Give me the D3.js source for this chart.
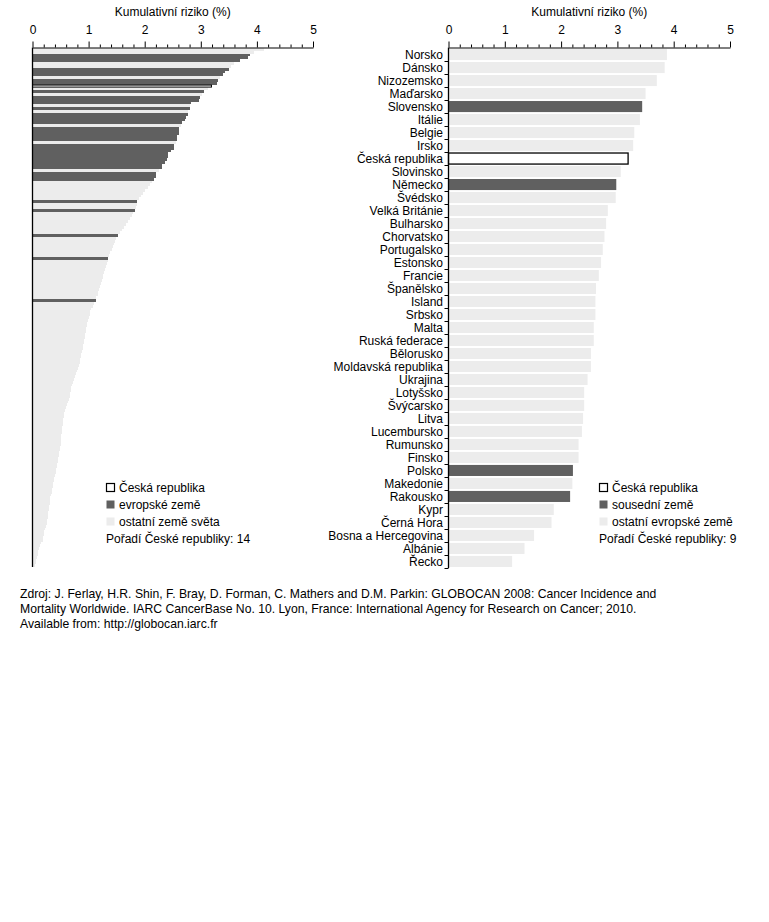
<!DOCTYPE html>
<html><head><meta charset="utf-8">
<script src="https://cdn.jsdelivr.net/npm/d3@7"></script>
<style>
body{margin:0;background:#fff}
text{font-family:"Liberation Sans",Arial,sans-serif;fill:#000}
</style>
</head><body>
<svg id="c" width="769" height="922"></svg>
<script>
// ---------- DATA ----------
const europeCountries = ["Norsko","Dánsko","Nizozemsko","Maďarsko","Slovensko","Itálie","Belgie","Irsko","Česká republika","Slovinsko","Německo","Švédsko","Velká Británie","Bulharsko","Chorvatsko","Portugalsko","Estonsko","Francie","Španělsko","Island","Srbsko","Malta","Ruská federace","Bělorusko","Moldavská republika","Ukrajina","Lotyšsko","Švýcarsko","Litva","Lucembursko","Rumunsko","Finsko","Polsko","Makedonie","Rakousko","Kypr","Černá Hora","Bosna a Hercegovina","Albánie","Řecko"];
const europeValues = [3.88,3.84,3.70,3.50,3.44,3.40,3.30,3.28,3.19,3.06,2.98,2.97,2.83,2.80,2.77,2.74,2.71,2.67,2.62,2.61,2.61,2.58,2.58,2.53,2.53,2.47,2.41,2.41,2.39,2.37,2.31,2.31,2.21,2.20,2.16,1.87,1.83,1.52,1.35,1.13];
const neighbourCountries = ["Slovensko","Německo","Polsko","Rakousko"];
const czechName = "Česká republika";
// non-European countries of the world
const otherWorldValues = [
 4.13,3.95,3.60,3.53,3.35,3.12,3.02,2.81,2.78,2.65,2.56,2.26,
 2.13,2.09,2.05,2.01,1.97,1.93,1.89,1.86,1.84,
 1.80,1.77,1.73,1.70,1.67,1.63,1.60,1.56,
 1.49,1.47,1.45,1.43,1.41,1.39,1.37,
 1.34,1.32,1.31,1.29,1.28,1.26,1.25,1.24,1.22,1.21,1.19,1.17,1.16,1.14,
 1.10,1.07,1.05,1.03,1.02,1.01,0.99,0.98,0.97,0.96,
 0.95,0.94,0.93,0.92,0.91,0.90,0.90,0.89,0.87,0.86,
 0.85,0.84,0.83,0.81,0.80,0.78,0.76,0.74,0.72,0.70,
 0.69,0.68,0.67,0.66,0.65,0.63,0.61,0.59,0.58,0.57,
 0.56,0.55,0.54,0.54,0.53,0.52,0.52,0.51,0.51,0.50,
 0.50,0.49,0.49,0.48,0.47,0.46,0.45,0.44,0.43,0.42,
 0.41,0.40,0.39,0.38,0.37,0.36,0.35,0.34,0.33,0.32,
 0.32,0.31,0.30,0.29,0.28,0.27,0.27,0.26,0.25,0.24,
 0.23,0.21,0.20,0.19,0.18,0.16,0.14,0.12,0.10,0.09,
 0.08,0.07,0.06,0.05];
const majorTicks = [0,1,2,3,4,5];
const minorTicks = [0.2,0.4,0.6,0.8,1.2,1.4,1.6,1.8,2.2,2.4,2.6,2.8,3.2,3.4,3.6,3.8,4.2,4.4,4.6,4.8];
const axisTitle = "Kumulativní riziko (%)";
const leftLegend = ["Česká republika","evropské země","ostatní země světa"];
const leftRankText = "Pořadí České republiky: 14";
const rightLegend = ["Česká republika","sousední země","ostatní evropské země"];
const rightRankText = "Pořadí České republiky: 9";
const sourceLines = [
 "Zdroj: J. Ferlay, H.R. Shin,  F. Bray, D. Forman, C. Mathers and D.M. Parkin: GLOBOCAN 2008: Cancer Incidence and",
 "Mortality Worldwide. IARC CancerBase No. 10. Lyon, France: International Agency for Research on Cancer; 2010.",
 "Available from: http://globocan.iarc.fr"];

// ---------- STYLE ----------
const DARK = "#606060", LIGHT = "#ececec";
const svg = d3.select("#c");

// world data: merge and sort
const world = europeCountries.map((c,i)=>({name:c, v:europeValues[i], g: c===czechName ? "cz" : "eu"}))
  .concat(otherWorldValues.map((v,i)=>({name:"o"+i, v, g:"other"})))
  .sort((a,b)=>d3.descending(a.v,b.v));

function topAxis(x, yAxis){
  const g = svg.append("g").attr("transform",`translate(0,${yAxis})`);
  g.append("g").call(d3.axisTop(x).tickValues(minorTicks).tickSize(3).tickSizeOuter(0).tickFormat(""))
    .call(s=>s.select(".domain").remove());
  const m = g.append("g").call(d3.axisTop(x).tickValues(majorTicks).tickSize(6).tickSizeOuter(0).tickPadding(8).tickFormat(d3.format("d")));
  g.selectAll("line").attr("stroke","#000");
  m.select(".domain").attr("stroke","#000");
  m.selectAll("text").attr("font-size",12).style("font-family",'"Liberation Sans",Arial,sans-serif');
  const [a,b] = x.range();
  svg.append("text").attr("x",(a+b)/2).attr("y",16).attr("text-anchor","middle").attr("font-size",12).text(axisTitle);
}

// ---------- LEFT PANEL ----------
const xL = d3.scaleLinear().domain([0,5]).range([32.5,313]);
const yL = d3.scaleBand().domain(world.map(d=>d.name)).range([48,567]).paddingInner(0);
svg.append("g").attr("shape-rendering","crispEdges").selectAll("rect").data(world.filter(d=>d.g!=="cz")).join("rect")
  .attr("x",xL(0)).attr("y",d=>yL(d.name)).attr("height",yL.bandwidth())
  .attr("width",d=>xL(d.v)-xL(0))
  .attr("fill",d=>d.g==="eu"?DARK:LIGHT);
svg.append("g").selectAll("rect").data(world.filter(d=>d.g==="cz")).join("rect")
  .attr("x",xL(0)).attr("y",d=>yL(d.name)+0.4).attr("height",yL.bandwidth()-0.8)
  .attr("width",d=>xL(d.v)-xL(0))
  .attr("fill","#fff").attr("stroke","#000").attr("stroke-width",1);
svg.append("line").attr("x1",xL(0)).attr("x2",xL(0)).attr("y1",47.5).attr("y2",567).attr("stroke","#000").attr("stroke-width",1.3);
topAxis(xL,47.5);

// ---------- RIGHT PANEL ----------
const xR = d3.scaleLinear().domain([0,5]).range([448.5,730]);
const yR = d3.scaleBand().domain(europeCountries).range([48,568]).paddingInner(0.15).paddingOuter(0.08);
svg.append("g").selectAll("rect").data(europeCountries).join("rect")
  .attr("x",xR(0)).attr("y",d=>yR(d)).attr("height",yR.bandwidth())
  .attr("width",(d,i)=>xR(europeValues[i])-xR(0))
  .attr("fill",d=>d===czechName?"#fff":neighbourCountries.includes(d)?DARK:LIGHT)
  .attr("stroke",d=>d===czechName?"#000":"none").attr("stroke-width",1.3);
// category axis
svg.append("line").attr("x1",xR(0)).attr("x2",xR(0)).attr("y1",47.5).attr("y2",568).attr("stroke","#000").attr("stroke-width",1.3);
svg.append("g").selectAll("line").data(europeCountries).join("line")
  .attr("x1",xR(0)-4).attr("x2",xR(0))
  .attr("y1",d=>Math.round(yR(d)-yR.step()*yR.paddingInner()/2+yR.step())+0.5)
  .attr("y2",d=>Math.round(yR(d)-yR.step()*yR.paddingInner()/2+yR.step())+0.5)
  .attr("stroke","#000");
svg.append("g").selectAll("text").data(europeCountries).join("text")
  .attr("x",xR(0)-5.5).attr("y",d=>yR(d)+yR.bandwidth()/2).attr("dy","0.36em")
  .attr("text-anchor","end").attr("font-size",12).text(d=>d);
topAxis(xR,47.5);

// ---------- LEGENDS ----------
function legend(x0, items, rankText){
  const fills = ["#fff",DARK,LIGHT];
  items.forEach((t,i)=>{
    const cy = 488 + i*17;
    svg.append("rect").attr("x",x0+0.5).attr("y",cy-4.5).attr("width",8).attr("height",8)
      .attr("fill",fills[i]).attr("stroke",i===0?"#000":"none").attr("stroke-width",1.2);
    svg.append("text").attr("x",x0+13).attr("y",cy).attr("dy","0.36em").attr("font-size",12).text(t);
  });
  svg.append("text").attr("x",x0).attr("y",488+3*17).attr("dy","0.36em").attr("font-size",12).text(rankText);
}
legend(106, leftLegend, leftRankText);
legend(599, rightLegend, rightRankText);

// ---------- SOURCE ----------
sourceLines.forEach((t,i)=>{
  svg.append("text").attr("x",20).attr("y",598+i*15).attr("font-size",12.2).text(t);
});
</script>
</body></html>
